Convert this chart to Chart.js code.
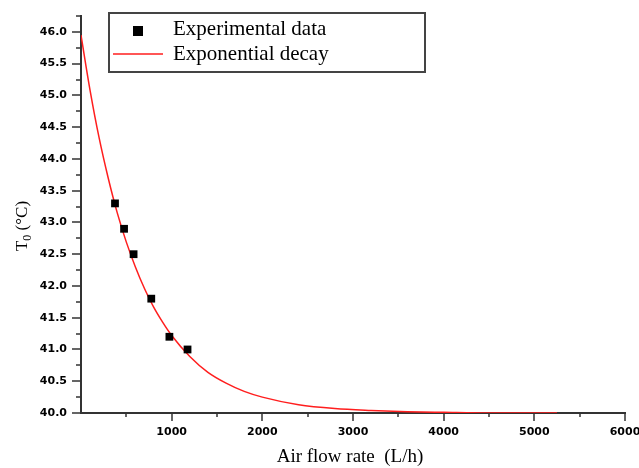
<!DOCTYPE html>
<html>
<head>
<meta charset="utf-8">
<script src="https://cdn.jsdelivr.net/npm/chart.js@4.4.1/dist/chart.umd.min.js"></script>
<style>
  html, body { margin: 0; padding: 0; background: #fff; }
  #wrap { width: 639px; height: 468px; position: relative; }
</style>
</head>
<body>
<div id="wrap"><canvas id="chart"></canvas></div>
<script>
'use strict';

// experimental points
var flowRates = [375, 475, 580, 775, 975, 1175];
var measuredT0 = [43.3, 42.9, 42.5, 41.8, 41.2, 41.0];

// fitted curve
var fitFlow = [0, 100, 200, 300, 400, 500, 600, 700, 800, 900, 1000, 1200, 1400, 1600, 1800, 2000, 2400, 2800, 3200, 3600, 4000, 4500, 5250];
var fitT0 = [45.95, 45.08, 44.33, 43.70, 43.15, 42.69, 42.30, 41.96, 41.67, 41.43, 41.22, 40.89, 40.64, 40.47, 40.34, 40.25, 40.13, 40.07, 40.04, 40.02, 40.01, 40.00, 40.00];

// tick labels
var xLabelValues = [1000, 2000, 3000, 4000, 5000, 6000];
var yLabelValues = [40.0, 40.5, 41.0, 41.5, 42.0, 42.5, 43.0, 43.5, 44.0, 44.5, 45.0, 45.5, 46.0];

var seriesNames = ['Experimental data', 'Exponential decay'];

function isLabelled(list, v) {
    return list.some(function (l) { return Math.abs(l - v) < 1e-6; });
}

// short/long tick marks drawn outward from the axes
var tickMarks = {
    id: 'tickMarks',
    afterDraw: function (chart) {
        var ctx = chart.ctx;
        var xs = chart.scales.x, ys = chart.scales.y;
        ctx.save();
        ctx.strokeStyle = '#333';
        ctx.lineWidth = 1.5;
        ctx.beginPath();
        ys.ticks.forEach(function (t) {
            var py = Math.round(ys.getPixelForValue(t.value));
            var len = isLabelled(yLabelValues, t.value) ? 9 : 5;
            ctx.moveTo(ys.right - len, py);
            ctx.lineTo(ys.right, py);
        });
        xs.ticks.forEach(function (t) {
            if (t.value === 0) return;
            var px = Math.round(xs.getPixelForValue(t.value));
            var len = (t.value % 1000 === 0) ? 8 : 4;
            ctx.moveTo(px, xs.top);
            ctx.lineTo(px, xs.top + len);
        });
        ctx.stroke();
        ctx.restore();
    }
};

// axis titles (y one has a subscript)
var axisTitles = {
    id: 'axisTitles',
    afterDraw: function (chart) {
        var ctx = chart.ctx;
        var a = chart.chartArea;
        ctx.save();
        ctx.fillStyle = '#000';
        ctx.textBaseline = 'middle';

        ctx.font = '19px "Liberation Serif"';
        ctx.textAlign = 'center';
        ctx.fillText('Air flow rate  (L/h)', (a.left + a.right) / 2 - 3, 457);

        ctx.translate(23, 226);
        ctx.rotate(-Math.PI / 2);
        ctx.textAlign = 'left';
        var big = '17px "Liberation Serif"', small = '12px "Liberation Serif"';
        ctx.font = big;
        var wT = ctx.measureText('T').width;
        var wRest = ctx.measureText(' (°C)').width;
        ctx.font = small;
        var w0 = ctx.measureText('0').width;
        var x = -(wT + w0 + wRest) / 2;
        ctx.font = big;
        ctx.fillText('T', x, 0);
        ctx.font = small;
        ctx.fillText('0', x + wT, 5);
        ctx.font = big;
        ctx.fillText(' (°C)', x + wT + w0, 0);
        ctx.restore();
    }
};

// framed legend in the top left corner
var boxLegend = {
    id: 'boxLegend',
    afterDraw: function (chart) {
        var ctx = chart.ctx;
        var a = chart.chartArea;
        var left = a.left + 28, top = 13, w = 316, h = 59;
        ctx.save();
        ctx.fillStyle = '#fff';
        ctx.fillRect(left, top, w, h);
        ctx.strokeStyle = '#444';
        ctx.lineWidth = 2;
        ctx.strokeRect(left, top, w, h);

        ctx.fillStyle = '#000';
        ctx.fillRect(left + 24, top + 13, 10, 10);
        ctx.strokeStyle = 'rgb(255,30,30)';
        ctx.lineWidth = 1.5;
        ctx.beginPath();
        ctx.moveTo(left + 4, top + 41);
        ctx.lineTo(left + 54, top + 41);
        ctx.stroke();

        ctx.font = '21px "Liberation Serif"';
        ctx.textBaseline = 'middle';
        ctx.textAlign = 'left';
        ctx.fillText(chart.data.datasets[0].label, left + 64, top + 16);
        ctx.fillText(chart.data.datasets[1].label, left + 64, top + 41);
        ctx.restore();
    }
};

var scatterPoints = flowRates.map(function (f, i) { return { x: f, y: measuredT0[i] }; });
var fitPoints = fitFlow.map(function (f, i) { return { x: f, y: fitT0[i] }; });

var tickFont = { family: '"DejaVu Sans"', size: 11, weight: 'bold' };

var ctx = document.getElementById('chart').getContext('2d');
var chart = new Chart(ctx, {
    type: 'scatter',
    data: {
        datasets: [
            {
                label: seriesNames[0],
                data: scatterPoints,
                pointStyle: 'rect',
                pointRadius: 5.5,
                pointHoverRadius: 5.5,
                backgroundColor: '#000',
                borderWidth: 0,
                showLine: false,
                order: 0,
            },
            {
                label: seriesNames[1],
                data: fitPoints,
                showLine: true,
                pointRadius: 0,
                borderColor: 'rgb(255,30,30)',
                borderWidth: 1.5,
                cubicInterpolationMode: 'monotone',
                order: 1,
            },
        ],
    },
    options: {
        responsive: true,
        maintainAspectRatio: false,
        animation: false,
        layout: { padding: { top: 16, right: 14, left: 0, bottom: 0 } },
        plugins: {
            legend: { display: false },
            tooltip: { enabled: false },
        },
        scales: {
            x: {
                type: 'linear',
                min: 0,
                max: 6000,
                afterFit: function (s) {
                    s.height = 55;
                    s.paddingLeft = 0;
                    s.paddingRight = 0;
                },
                grid: { display: false, drawTicks: false },
                border: { display: true, color: '#333', width: 2 },
                ticks: {
                    stepSize: 500,
                    autoSkip: false,
                    maxRotation: 0,
                    padding: 13,
                    color: '#000',
                    font: tickFont,
                    callback: function (v) {
                        return isLabelled(xLabelValues, v) ? String(v) : '';
                    },
                },
            },
            y: {
                type: 'linear',
                min: 40,
                max: 46.25,
                afterFit: function (s) {
                    s.width = 81;
                    s.paddingTop = 0;
                    s.paddingBottom = 0;
                },
                grid: { display: false, drawTicks: false },
                border: { display: true, color: '#333', width: 2 },
                ticks: {
                    stepSize: 0.25,
                    autoSkip: false,
                    padding: 14,
                    color: '#000',
                    font: tickFont,
                    callback: function (v) {
                        return isLabelled(yLabelValues, v) ? v.toFixed(1) : '';
                    },
                },
            },
        },
    },
    plugins: [tickMarks, axisTitles, boxLegend],
});
</script>
</body>
</html>
